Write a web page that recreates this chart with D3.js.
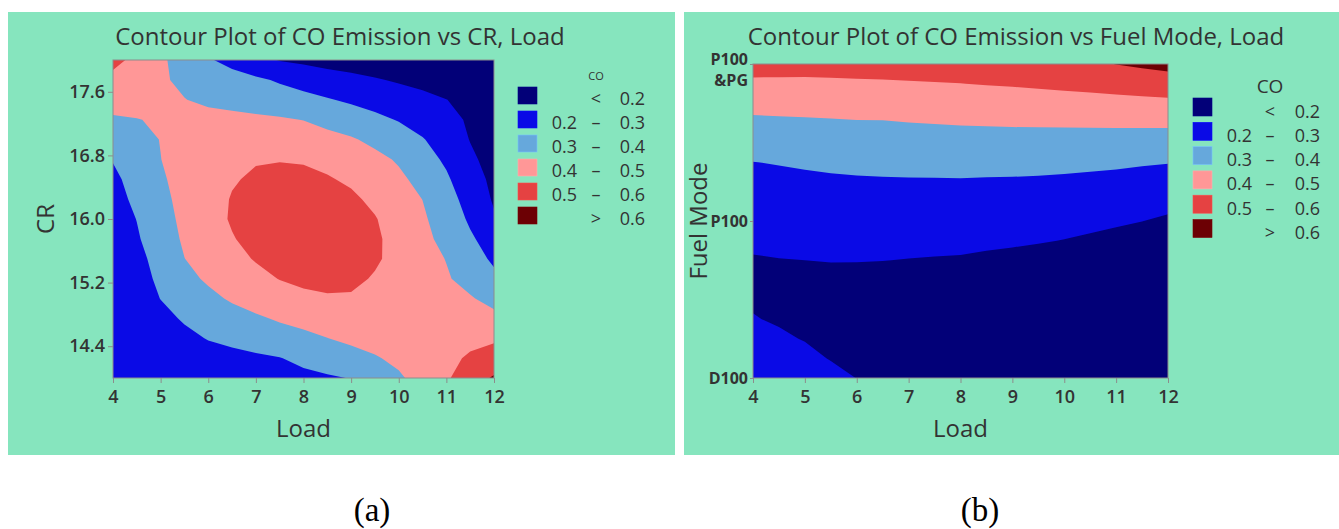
<!DOCTYPE html>
<html>
<head>
<meta charset="utf-8">
<script src="https://cdn.jsdelivr.net/npm/d3@7"></script>
<style>
  body { margin: 0; background: #ffffff; }
  svg text { font-family: "Open Sans", sans-serif; fill: #333333; }
</style>
</head>
<body>
<div class="chart"></div>
<script>
// Contour plots of CO emission (two Minitab panels)

var svgWidth = 1339;
var svgHeight = 529;

// ---- data ----
var loadValues = [4, 4.5, 5, 5.5, 6, 6.5, 7, 7.5, 8, 8.5, 9, 9.5, 10, 10.5, 11, 11.5, 12];
var crValues = [14, 14.25, 14.5, 14.75, 15, 15.25, 15.5, 15.75, 16, 16.25, 16.5, 16.75, 17, 17.25, 17.5, 17.75, 18];
var fuelValues = [0, 0.125, 0.25, 0.375, 0.5, 0.625, 0.75, 0.875, 1, 1.125, 1.25, 1.375, 1.5, 1.625, 1.75, 1.875, 2];

// CO vs CR (rows, CR = 14 ... 18) and Load (columns, 4 ... 12)
var coByCR = [
  [0.225, 0.23, 0.235, 0.24, 0.245, 0.25, 0.26, 0.27, 0.28, 0.29, 0.303, 0.345, 0.387, 0.436, 0.489, 0.55, 0.612],
  [0.22, 0.23, 0.24, 0.25, 0.262, 0.273, 0.285, 0.297, 0.32, 0.344, 0.368, 0.392, 0.42, 0.451, 0.481, 0.51, 0.535],
  [0.215, 0.232, 0.25, 0.275, 0.305, 0.323, 0.342, 0.361, 0.38, 0.399, 0.418, 0.435, 0.45, 0.462, 0.472, 0.48, 0.488],
  [0.215, 0.235, 0.27, 0.311, 0.336, 0.361, 0.387, 0.41, 0.425, 0.438, 0.447, 0.452, 0.455, 0.455, 0.452, 0.443, 0.425],
  [0.215, 0.245, 0.302, 0.339, 0.376, 0.412, 0.44, 0.462, 0.48, 0.49, 0.49, 0.482, 0.468, 0.45, 0.432, 0.408, 0.37],
  [0.22, 0.262, 0.319, 0.372, 0.414, 0.444, 0.473, 0.503, 0.52, 0.527, 0.52, 0.492, 0.465, 0.437, 0.409, 0.368, 0.32],
  [0.23, 0.271, 0.337, 0.399, 0.435, 0.471, 0.507, 0.53, 0.545, 0.548, 0.54, 0.512, 0.472, 0.435, 0.397, 0.339, 0.285],
  [0.24, 0.29, 0.353, 0.412, 0.453, 0.495, 0.525, 0.545, 0.553, 0.553, 0.542, 0.515, 0.467, 0.424, 0.373, 0.312, 0.26],
  [0.25, 0.302, 0.366, 0.42, 0.467, 0.508, 0.535, 0.548, 0.552, 0.548, 0.535, 0.505, 0.459, 0.413, 0.354, 0.287, 0.21],
  [0.265, 0.32, 0.378, 0.425, 0.466, 0.505, 0.525, 0.535, 0.537, 0.53, 0.515, 0.482, 0.441, 0.399, 0.336, 0.265, 0.19],
  [0.28, 0.335, 0.39, 0.427, 0.46, 0.493, 0.512, 0.518, 0.516, 0.507, 0.487, 0.452, 0.418, 0.372, 0.313, 0.239, 0.18],
  [0.305, 0.352, 0.399, 0.43, 0.455, 0.478, 0.494, 0.497, 0.494, 0.478, 0.45, 0.425, 0.39, 0.339, 0.285, 0.215, 0.17],
  [0.35, 0.375, 0.402, 0.42, 0.435, 0.445, 0.45, 0.45, 0.445, 0.43, 0.41, 0.377, 0.342, 0.306, 0.253, 0.197, 0.16],
  [0.385, 0.397, 0.41, 0.42, 0.425, 0.425, 0.418, 0.41, 0.398, 0.371, 0.346, 0.321, 0.295, 0.259, 0.224, 0.19, 0.17],
  [0.45, 0.44, 0.425, 0.402, 0.385, 0.369, 0.354, 0.338, 0.322, 0.306, 0.287, 0.266, 0.244, 0.223, 0.201, 0.18, 0.165],
  [0.47, 0.44, 0.41, 0.385, 0.361, 0.337, 0.314, 0.291, 0.27, 0.249, 0.228, 0.208, 0.19, 0.175, 0.16, 0.15, 0.14],
  [0.53, 0.472, 0.415, 0.362, 0.31, 0.269, 0.231, 0.195, 0.18, 0.16, 0.15, 0.14, 0.13, 0.12, 0.11, 0.1, 0.09]
];

// CO vs Fuel Mode (rows, coded 0 = D100 ... 2 = P100&PG) and Load (columns)
var coByFuel = [
  [0.281, 0.261, 0.242, 0.22, 0.199, 0.184, 0.178, 0.171, 0.165, 0.159, 0.153, 0.146, 0.138, 0.128, 0.115, 0.101, 0.086],
  [0.248, 0.231, 0.216, 0.197, 0.18, 0.167, 0.162, 0.156, 0.15, 0.144, 0.138, 0.131, 0.123, 0.113, 0.1, 0.086, 0.071],
  [0.222, 0.209, 0.197, 0.182, 0.168, 0.158, 0.153, 0.148, 0.143, 0.137, 0.131, 0.124, 0.116, 0.106, 0.093, 0.079, 0.064],
  [0.203, 0.194, 0.186, 0.176, 0.165, 0.157, 0.153, 0.148, 0.143, 0.137, 0.131, 0.124, 0.116, 0.106, 0.093, 0.08, 0.064],
  [0.193, 0.188, 0.183, 0.177, 0.17, 0.164, 0.16, 0.156, 0.152, 0.146, 0.14, 0.133, 0.125, 0.115, 0.102, 0.089, 0.073],
  [0.19, 0.189, 0.188, 0.185, 0.182, 0.178, 0.175, 0.172, 0.168, 0.162, 0.156, 0.149, 0.141, 0.131, 0.118, 0.105, 0.089],
  [0.195, 0.198, 0.2, 0.202, 0.202, 0.201, 0.198, 0.195, 0.193, 0.187, 0.181, 0.174, 0.166, 0.156, 0.143, 0.129, 0.114],
  [0.212, 0.218, 0.221, 0.223, 0.224, 0.224, 0.222, 0.221, 0.219, 0.214, 0.21, 0.205, 0.198, 0.188, 0.175, 0.161, 0.146],
  [0.234, 0.239, 0.242, 0.245, 0.246, 0.246, 0.246, 0.245, 0.244, 0.24, 0.237, 0.233, 0.227, 0.22, 0.212, 0.201, 0.186],
  [0.256, 0.26, 0.263, 0.266, 0.268, 0.269, 0.269, 0.269, 0.269, 0.266, 0.264, 0.261, 0.256, 0.251, 0.244, 0.236, 0.226],
  [0.277, 0.281, 0.284, 0.288, 0.29, 0.292, 0.293, 0.293, 0.294, 0.292, 0.291, 0.289, 0.286, 0.281, 0.277, 0.271, 0.264],
  [0.299, 0.304, 0.31, 0.316, 0.321, 0.323, 0.326, 0.327, 0.328, 0.327, 0.327, 0.325, 0.322, 0.318, 0.314, 0.308, 0.303],
  [0.34, 0.344, 0.348, 0.353, 0.357, 0.359, 0.362, 0.365, 0.366, 0.367, 0.367, 0.366, 0.365, 0.364, 0.362, 0.36, 0.358],
  [0.381, 0.384, 0.387, 0.39, 0.393, 0.394, 0.399, 0.402, 0.405, 0.407, 0.409, 0.41, 0.411, 0.412, 0.413, 0.414, 0.415],
  [0.429, 0.431, 0.433, 0.436, 0.439, 0.441, 0.446, 0.449, 0.452, 0.455, 0.459, 0.462, 0.465, 0.469, 0.472, 0.476, 0.48],
  [0.483, 0.483, 0.483, 0.485, 0.488, 0.49, 0.493, 0.496, 0.499, 0.504, 0.508, 0.513, 0.52, 0.526, 0.535, 0.544, 0.553],
  [0.537, 0.535, 0.533, 0.535, 0.537, 0.539, 0.54, 0.543, 0.546, 0.552, 0.557, 0.565, 0.574, 0.582, 0.602, 0.615, 0.629]
];

var coLevels = [0.2, 0.3, 0.4, 0.5, 0.6];
var legendLow = ["", "0.2", "0.3", "0.4", "0.5", ""];
var legendSep = ["<", "\u2013", "\u2013", "\u2013", "\u2013", ">"];
var legendHigh = ["0.2", "0.3", "0.4", "0.5", "0.6", "0.6"];

var loadTicks = [4, 5, 6, 7, 8, 9, 10, 11, 12];
var crTicks = [14.4, 15.2, 16.0, 16.8, 17.6];
var fuelTicks = [0, 1, 2];
var fuelModes = ["D100", "P100", "P100&PG"];

var bandColors = ["#020078", "#0a0ae6", "#66a8dc", "#ff9797", "#e54242", "#6c0004"];
var panelColor = "#86e5be";

var svg = d3.select(".chart")
  .append("svg")
  .attr("width", svgWidth)
  .attr("height", svgHeight);

function drawPanel(p) {
  var g = svg.append("g");

  g.append("rect")
    .attr("x", p.box[0]).attr("y", p.box[1])
    .attr("width", p.box[2]).attr("height", p.box[3])
    .attr("fill", panelColor);

  var n = p.xValues.length;
  var m = p.yValues.length;

  var xScale = d3.scaleLinear().domain(d3.extent(p.xValues)).range([p.left, p.right]);
  var yScale = d3.scaleLinear().domain(d3.extent(p.yValues)).range([p.bottom, p.top]);

  // grid coordinates from d3.contours -> data values (samples sit at cell centres)
  var gx = d3.scaleLinear().domain([0.5, n - 0.5]).range(d3.extent(p.xValues));
  var gy = d3.scaleLinear().domain([0.5, m - 0.5]).range(d3.extent(p.yValues));

  var path = d3.geoPath(d3.geoTransform({
    point: function(a, b) {
      this.stream.point(xScale(gx(a)), yScale(gy(b)));
    }
  }));

  var values = [];
  p.grid.forEach(function(row) {
    row.forEach(function(v) { values.push(v); });
  });

  var contours = d3.contours()
    .size([n, m])
    .thresholds(coLevels)(values);

  g.append("clipPath")
    .attr("id", p.id + "-clip")
    .append("rect")
    .attr("x", p.left).attr("y", p.top)
    .attr("width", p.right - p.left).attr("height", p.bottom - p.top);

  var plot = g.append("g").attr("clip-path", "url(#" + p.id + "-clip)");

  plot.append("rect")
    .attr("x", p.left).attr("y", p.top)
    .attr("width", p.right - p.left).attr("height", p.bottom - p.top)
    .attr("fill", bandColors[0]);

  plot.selectAll("path")
    .data(contours)
    .enter().append("path")
    .attr("d", path)
    .attr("fill", function(d, i) { return bandColors[i + 1]; });

  // frame
  g.append("rect")
    .attr("x", p.left).attr("y", p.top)
    .attr("width", p.right - p.left).attr("height", p.bottom - p.top)
    .attr("fill", "none")
    .attr("stroke", "#8c8c8c")
    .attr("stroke-width", 1);

  // axes
  var bottomAxis = d3.axisBottom(xScale).tickValues(loadTicks).tickSize(5).tickPadding(7);
  var leftAxis = d3.axisLeft(yScale).tickValues(p.yTicks).tickFormat(p.yFormat)
    .tickSize(p.yTickSize).tickPadding(p.yTickPad);

  var xa = g.append("g")
    .attr("transform", "translate(0," + p.bottom + ")")
    .call(bottomAxis);
  var ya = g.append("g")
    .attr("transform", "translate(" + p.left + ",0)")
    .call(leftAxis);

  [xa, ya].forEach(function(a) {
    a.select(".domain").remove();
    a.selectAll("line").attr("stroke", "#8c8c8c");
    a.selectAll("text")
      .style("font-family", "'Open Sans', sans-serif")
      .style("fill", "#333");
  });
  xa.selectAll("text").style("font-size", "18px").style("font-weight", 600);
  ya.selectAll("text").style("font-size", p.yFontSize).style("font-weight", p.yWeight);

  // two-line category label
  ya.selectAll("text").each(function(d) {
    var label = p.yFormat(d);
    var k = label.indexOf("&");
    if (k > 0) {
      var t = d3.select(this).text(null).attr("dy", null);
      t.append("tspan").attr("x", -(p.yTickSize + p.yTickPad)).attr("dy", "0em").text(label.slice(0, k));
      t.append("tspan").attr("x", -(p.yTickSize + p.yTickPad)).attr("dy", "1.35em").text(label.slice(k));
    }
  });

  // titles
  g.append("text")
    .attr("x", p.titleX).attr("y", 45)
    .attr("text-anchor", "middle")
    .style("font-size", "24px")
    .text(p.title);

  g.append("text")
    .attr("x", (p.left + p.right) / 2).attr("y", 437)
    .attr("text-anchor", "middle")
    .style("font-size", "24px")
    .text("Load");

  g.append("text")
    .attr("transform", "translate(" + p.yLabelX + "," + ((p.top + p.bottom) / 2) + ") rotate(-90)")
    .attr("text-anchor", "middle")
    .style("font-size", "24px")
    .text(p.yLabel);

  // legend
  var lg = g.append("g");
  lg.append("text")
    .attr("x", p.legend.sep).attr("y", p.legend.headY)
    .attr("text-anchor", "middle")
    .style("font-size", p.legend.headSize)
    .text("CO");

  bandColors.forEach(function(c, i) {
    var top = p.legend.top + i * p.legend.step;
    lg.append("rect")
      .attr("x", p.legend.x).attr("y", top)
      .attr("width", 19).attr("height", p.legend.h)
      .attr("fill", c)
      .attr("stroke", d3.color(c).brighter(0.4))
      .attr("stroke-width", 0.6);
    var base = top + p.legend.base;
    lg.append("text").attr("x", p.legend.low).attr("y", base)
      .attr("text-anchor", "end").style("font-size", "18px").text(legendLow[i]);
    lg.append("text").attr("x", p.legend.sep).attr("y", base)
      .attr("text-anchor", "middle").style("font-size", "18px").text(legendSep[i]);
    lg.append("text").attr("x", p.legend.high).attr("y", base)
      .attr("text-anchor", "end").style("font-size", "18px").text(legendHigh[i]);
  });
}

drawPanel({
  id: "pa",
  box: [8, 12, 667, 443],
  left: 113, right: 494, top: 60, bottom: 378,
  xValues: loadValues, yValues: crValues, grid: coByCR,
  yTicks: crTicks, yFormat: d3.format(".1f"), yTickSize: 5, yTickPad: 3,
  yFontSize: "18px", yWeight: 600,
  title: "Contour Plot of CO Emission vs CR, Load", titleX: 340,
  yLabel: "CR", yLabelX: 54,
  legend: { x: 518, top: 87, step: 24, h: 17, base: 18, low: 577, sep: 596, high: 645, headY: 80, headSize: "11px" }
});

drawPanel({
  id: "pb",
  box: [684, 12, 655, 443],
  left: 753, right: 1168, top: 64, bottom: 378,
  xValues: loadValues, yValues: fuelValues, grid: coByFuel,
  yTicks: fuelTicks, yFormat: function(d) { return fuelModes[d]; }, yTickSize: 3, yTickPad: 2,
  yFontSize: "16px", yWeight: 700,
  title: "Contour Plot of CO Emission vs Fuel Mode, Load", titleX: 1016,
  yLabel: "Fuel Mode", yLabelX: 707,
  legend: { x: 1193, top: 98, step: 24.3, h: 18, base: 19.5, low: 1252, sep: 1270, high: 1320, headY: 93, headSize: "19px" }
});

// sub-figure captions
svg.append("text")
  .attr("x", 372).attr("y", 521)
  .attr("text-anchor", "middle")
  .style("font-family", "'Liberation Serif', 'Times New Roman', serif")
  .style("font-size", "33px")
  .style("fill", "#000")
  .text("(a)");

svg.append("text")
  .attr("x", 980).attr("y", 521)
  .attr("text-anchor", "middle")
  .style("font-family", "'Liberation Serif', 'Times New Roman', serif")
  .style("font-size", "33px")
  .style("fill", "#000")
  .text("(b)");
</script>
</body>
</html>
